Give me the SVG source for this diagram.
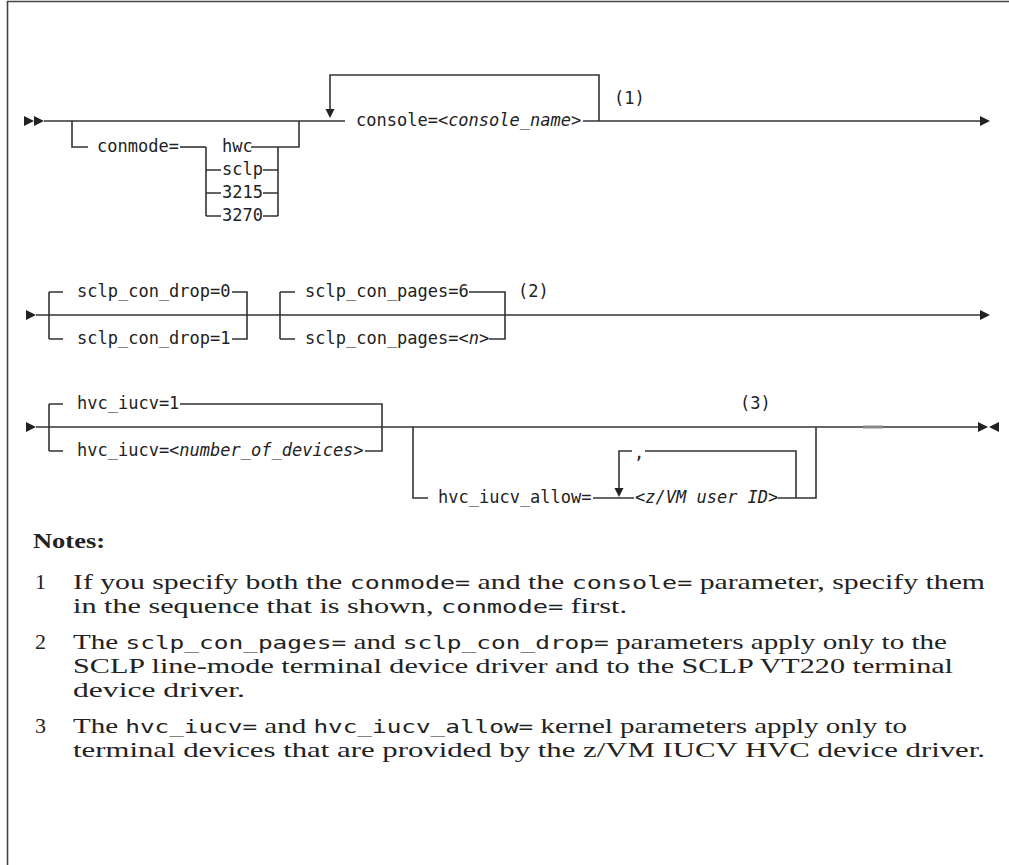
<svg xmlns="http://www.w3.org/2000/svg" width="1009" height="865" viewBox="0 0 1009 865">
  <style>
    .ln { fill: none; stroke: #333; stroke-width: 1.6; }
    .frame { fill: none; stroke: #444; stroke-width: 1.6; }
    .kw { font-family: "DejaVu Sans Mono", "Liberation Mono", monospace; font-size: 17px; fill: #222; }
    .var { font-style: italic; }
    .note { font-family: "Liberation Serif", "DejaVu Serif", serif; font-size: 22px; fill: #222; }
    .code { font-family: "DejaVu Sans Mono", "Liberation Mono", monospace; font-size: 18.5px; }
    .head { font-weight: bold; }
    .ah { fill: #222; }
  </style>
  <defs>
    <path id="arrR" d="M0,-5 L10,0 L0,5 Z" class="ah"/>
    <path id="arrL" d="M0,-5 L-10,0 L0,5 Z" class="ah"/>
    <path id="arrD" d="M-4.5,-9 L4.5,-9 L0,0 Z" class="ah"/>
  </defs>

  <rect width="1009" height="865" fill="#fff"/>
  <!-- page frame -->
  <path class="frame" d="M7.5,865 V1.5 H1009"/>

  <g id="connectors">
    <!-- row 1 main line -->
    <path class="ln" d="M44,121 H345"/>
    <path class="ln" d="M583,121 H981"/>
    <!-- conmode optional branch -->
    <path class="ln" d="M72,121 V147 H88"/>
    <path class="ln" d="M180,147 H206"/>
    <path class="ln" d="M206,147 V216"/>
    <path class="ln" d="M206,170 H221 M206,193 H221 M206,216 H221"/>
    <path class="ln" d="M251,147 H299 V121"/>
    <path class="ln" d="M263,170 H278 M263,193 H278 M263,216 H278"/>
    <path class="ln" d="M278,147 V216"/>
    <!-- console repeat loop -->
    <path class="ln" d="M599,121 V75 H330 V110"/>

    <!-- row 2 main line and choice groups -->
    <path class="ln" d="M36,315 H981"/>
    <path class="ln" d="M49,292 V339"/>
    <path class="ln" d="M49,292 H63 M49,339 H63"/>
    <path class="ln" d="M232,292 H247 V339 H232"/>
    <path class="ln" d="M280,292 V339"/>
    <path class="ln" d="M280,292 H295 M280,339 H295"/>
    <path class="ln" d="M469,292 H505 V339 H489"/>

    <!-- row 3 main line and choice group -->
    <path class="ln" d="M36,427 H978"/>
    <path class="ln" d="M49,404 V451"/>
    <path class="ln" d="M49,404 H63 M49,451 H63"/>
    <path class="ln" d="M180,404 H382 V451 H365"/>
    <!-- hvc_iucv_allow optional branch -->
    <path class="ln" d="M413,427 V498 H428"/>
    <path class="ln" d="M593,498 H634"/>
    <path class="ln" d="M778,498 H816 V427"/>
    <!-- comma repeat loop -->
    <path class="ln" d="M796,498 V451 H645 M632,451 H619 V488"/>
    <path d="M863,427 H883" stroke="#888" stroke-width="3"/>

    <!-- arrowheads -->
    <use href="#arrR" x="24" y="121"/>
    <use href="#arrR" x="34" y="121"/>
    <use href="#arrR" x="980" y="121"/>
    <use href="#arrD" x="330" y="118"/>
    <use href="#arrR" x="26" y="315"/>
    <use href="#arrR" x="980" y="315"/>
    <use href="#arrR" x="26" y="427"/>
    <use href="#arrR" x="978" y="427"/>
    <use href="#arrL" x="999" y="427"/>
    <use href="#arrD" x="619" y="497"/>
  </g>

  <g id="conmode">
    <text class="kw" x="97" y="152">conmode=</text>
    <text class="kw" x="222" y="152">hwc</text>
    <text class="kw" x="222" y="175">sclp</text>
    <text class="kw" x="222" y="198">3215</text>
    <text class="kw" x="222" y="221">3270</text>
  </g>
  <g id="console">
    <text class="kw" x="356" y="126">console=&lt;<tspan class="var">console_name</tspan>&gt;</text>
    <text class="kw" x="614" y="104">(1)</text>
  </g>

  <g id="sclp_con_drop">
    <text class="kw" x="77" y="297">sclp_con_drop=0</text>
    <text class="kw" x="77" y="344">sclp_con_drop=1</text>
  </g>
  <g id="sclp_con_pages">
    <text class="kw" x="305" y="297">sclp_con_pages=6</text>
    <text class="kw" x="305" y="344">sclp_con_pages=&lt;<tspan class="var">n</tspan>&gt;</text>
    <text class="kw" x="518" y="297">(2)</text>
  </g>

  <g id="hvc_iucv">
    <text class="kw" x="77" y="409">hvc_iucv=1</text>
    <text class="kw" x="77" y="456">hvc_iucv=&lt;<tspan class="var">number_of_devices</tspan>&gt;</text>
  </g>
  <g id="hvc_iucv_allow">
    <text class="kw" x="438" y="503">hvc_iucv_allow=</text>
    <text class="kw" x="634" y="459">,</text>
    <text class="kw" x="635" y="503">&lt;<tspan class="var">z/VM user ID</tspan>&gt;</text>
    <text class="kw" x="740" y="409">(3)</text>
  </g>

  <!-- notes below the syntax diagram -->
  <g id="notes">
    <text class="note head" x="33" y="548" textLength="72" lengthAdjust="spacingAndGlyphs">Notes:</text>
    <text class="note" x="35" y="589">1</text>
    <text class="note" x="73" y="589" textLength="912" lengthAdjust="spacingAndGlyphs">If you specify both the <tspan class="code">conmode=</tspan> and the <tspan class="code">console=</tspan> parameter, specify them</text>
    <text class="note" x="73" y="613" textLength="554" lengthAdjust="spacingAndGlyphs">in the sequence that is shown, <tspan class="code">conmode=</tspan> first.</text>
    <text class="note" x="35" y="649">2</text>
    <text class="note" x="73" y="649" textLength="874" lengthAdjust="spacingAndGlyphs">The <tspan class="code">sclp_con_pages=</tspan> and <tspan class="code">sclp_con_drop=</tspan> parameters apply only to the</text>
    <text class="note" x="73" y="673" textLength="880" lengthAdjust="spacingAndGlyphs">SCLP line-mode terminal device driver and to the SCLP VT220 terminal</text>
    <text class="note" x="73" y="697" textLength="172" lengthAdjust="spacingAndGlyphs">device driver.</text>
    <text class="note" x="35" y="733">3</text>
    <text class="note" x="73" y="733" textLength="834" lengthAdjust="spacingAndGlyphs">The <tspan class="code">hvc_iucv=</tspan> and <tspan class="code">hvc_iucv_allow=</tspan> kernel parameters apply only to</text>
    <text class="note" x="73" y="757" textLength="912" lengthAdjust="spacingAndGlyphs">terminal devices that are provided by the z/VM IUCV HVC device driver.</text>
  </g>
</svg>
